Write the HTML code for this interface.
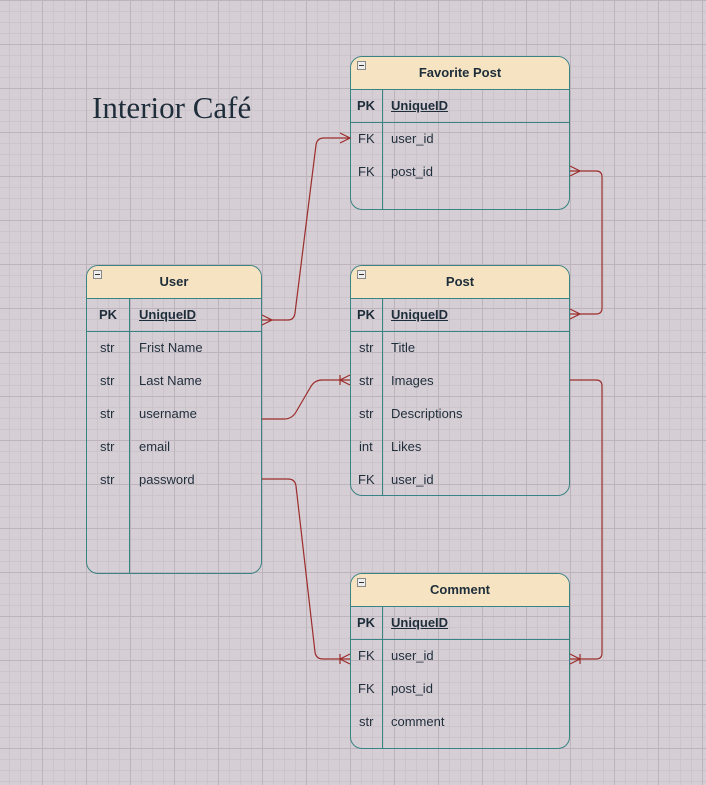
<!DOCTYPE html>
<html><head><meta charset="utf-8"><style>
*{margin:0;padding:0;box-sizing:border-box}
body{width:706px;height:785px;overflow:hidden;position:relative;background-color:#d6ced5;
background-image:
linear-gradient(to right,#bcb3bb 1px,transparent 1px),
linear-gradient(to bottom,#bcb3bb 1px,transparent 1px),
linear-gradient(to right,#ccc4cb 1px,transparent 1px),
linear-gradient(to bottom,#ccc4cb 1px,transparent 1px);
background-size:44px 44px,44px 44px,11px 11px,11px 11px;
background-position:42px 0,0 0,42px 0,0 0;
font-family:"Liberation Sans",sans-serif;color:#1e2d3a}
.t{position:absolute;border:1px solid #3a8384;border-radius:12px;overflow:hidden}
.h{height:33px;background:#f5e3c1;border-bottom:1px solid #3a8384;text-align:center;font-weight:bold;font-size:13px;line-height:31px;position:relative}
.h i{position:absolute;left:6px;top:4px;width:9px;height:9px;background:#eee;border:1px solid #888;}
.h i:after{content:"";position:absolute;left:1px;top:3px;width:5px;height:1px;background:#333}
.r{height:33px;line-height:31px;font-size:13px;position:relative}
.r b,.r span{position:absolute}
.pk{border-bottom:1px solid #3a8384;font-weight:bold}
.pk span{text-decoration:underline}
.col{position:absolute;top:33px;bottom:0;width:1px;background:#3a8384}
.title{position:absolute;left:92px;top:90px;font-family:"Liberation Serif",serif;font-size:31px;color:#1e2d3a}
</style></head><body>
<div class="title">Interior Café</div>

<div class="t" style="left:86px;top:265px;width:176px;height:309px">
<div class="h"><i></i>User</div>
<div class="col" style="left:42px"></div>
<div class="r pk"><b style="left:12px">PK</b><span style="left:52px">UniqueID</span></div>
<div class="r"><b style="left:13px;font-weight:normal">str</b><span style="left:52px">Frist Name</span></div>
<div class="r"><b style="left:13px;font-weight:normal">str</b><span style="left:52px">Last Name</span></div>
<div class="r"><b style="left:13px;font-weight:normal">str</b><span style="left:52px">username</span></div>
<div class="r"><b style="left:13px;font-weight:normal">str</b><span style="left:52px">email</span></div>
<div class="r"><b style="left:13px;font-weight:normal">str</b><span style="left:52px">password</span></div>
</div>

<div class="t" style="left:350px;top:56px;width:220px;height:154px">
<div class="h"><i></i>Favorite Post</div>
<div class="col" style="left:31px"></div>
<div class="r pk"><b style="left:6px">PK</b><span style="left:40px">UniqueID</span></div>
<div class="r"><b style="left:7px;font-weight:normal">FK</b><span style="left:40px">user_id</span></div>
<div class="r"><b style="left:7px;font-weight:normal">FK</b><span style="left:40px">post_id</span></div>
</div>

<div class="t" style="left:350px;top:265px;width:220px;height:231px">
<div class="h"><i></i>Post</div>
<div class="col" style="left:31px"></div>
<div class="r pk"><b style="left:6px">PK</b><span style="left:40px">UniqueID</span></div>
<div class="r"><b style="left:8px;font-weight:normal">str</b><span style="left:40px">Title</span></div>
<div class="r"><b style="left:8px;font-weight:normal">str</b><span style="left:40px">Images</span></div>
<div class="r"><b style="left:8px;font-weight:normal">str</b><span style="left:40px">Descriptions</span></div>
<div class="r"><b style="left:8px;font-weight:normal">int</b><span style="left:40px">Likes</span></div>
<div class="r"><b style="left:7px;font-weight:normal">FK</b><span style="left:40px">user_id</span></div>
</div>

<div class="t" style="left:350px;top:573px;width:220px;height:176px">
<div class="h"><i></i>Comment</div>
<div class="col" style="left:31px"></div>
<div class="r pk"><b style="left:6px">PK</b><span style="left:40px">UniqueID</span></div>
<div class="r"><b style="left:7px;font-weight:normal">FK</b><span style="left:40px">user_id</span></div>
<div class="r"><b style="left:7px;font-weight:normal">FK</b><span style="left:40px">post_id</span></div>
<div class="r"><b style="left:8px;font-weight:normal">str</b><span style="left:40px">comment</span></div>
</div>

<svg width="706" height="785" style="position:absolute;left:0;top:0" fill="none" stroke="#9b2d2b" stroke-width="1.2">
<path d="M262 320 H288 Q294 320 295 313 L316 145 Q317 138 324 138 H350"/>
<path d="M262 315 L272 320 L262 325 M340 133 L350 138 L340 143"/>
<path d="M570 171 H596 Q602 171 602 177 V308 Q602 314 596 314 H570"/>
<path d="M570 166 L580 171 L570 176 M570 309 L580 314 L570 319"/>
<path d="M262 419 H284 Q292 419 296 412 L310 388 Q314 380 322 380 H350"/>
<path d="M350 375 L340 380 L350 385 M340 375 V385"/>
<path d="M262 479 H288 Q295 479 296 486 L315 652 Q316 659 323 659 H350"/>
<path d="M350 654 L340 659 L350 664 M340 654 V664"/>
<path d="M570 380 H596 Q602 380 602 386 V653 Q602 659 596 659 H570"/>
<path d="M570 654 L580 659 L570 664 M580 654 V664"/>
</svg>
</body></html>
